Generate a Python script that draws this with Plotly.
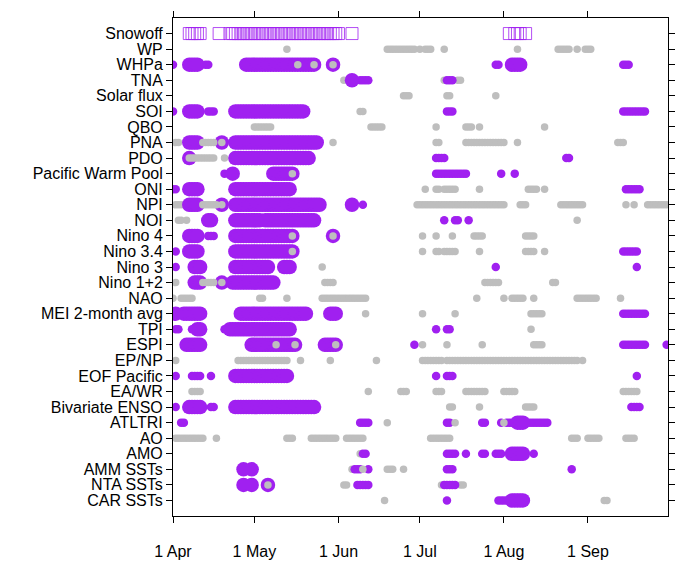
import plotly.graph_objects as go

# Row labels, top to bottom
rows = [
    "Snowoff", "WP", "WHPa", "TNA", "Solar flux", "SOI", "QBO", "PNA", "PDO",
    "Pacific Warm Pool", "ONI", "NPI", "NOI", "Nino 4", "Nino 3.4", "Nino 3",
    "Nino 1+2", "NAO", "MEI 2-month avg", "TPI", "ESPI", "EP/NP", "EOF Pacific",
    "EA/WR", "Bivariate ENSO", "ATLTRI", "AO", "AMO", "AMM SSTs", "NTA SSTs",
    "CAR SSTs",
]

# Day offsets counted from 1 April; (a, b) = every day from a to b inclusive
month_ticks = [0, 30, 61, 91, 122, 153]
month_labels = ["1 Apr", "1 May", "1 Jun", "1 Jul", "1 Aug", "1 Sep"]

snowoff_days = [(6, 10), 17, (21, 61), 66, 124, (126, 128), 130]

grey_days = {
    "WP": [42, (79, 89), 91, (93, 95), 100, 127, (142, 146), 149, (152, 154)],
    "TNA": [63, 100, (105, 106)],
    "Solar flux": [(85, 87), (101, 102), 119],
    "SOI": [69, 70],
    "QBO": [(30, 36), (73, 77), 97, (108, 110), 113, 137],
    "PNA": [1, 2, 59, (97, 98), (108, 122), 127, (164, 166)],
    "PDO": [19],
    "ONI": [93, (97, 98), (100, 104), 113, (131, 134), 137],
    "NPI": [(1, 3), (90, 122), (128, 130), (143, 151), 167, 170, (175, 183)],
    "NOI": [2, 3, 5, 149],
    "Nino 4": [92, 97, 103, (111, 114), (130, 133)],
    "Nino 3.4": [92, (97, 98), (100, 104), 113, (130, 133), 137],
    "Nino 3": [55],
    "Nino 1+2": [1, (56, 59), (115, 120), (140, 141)],
    "NAO": [0, (3, 7), (32, 33), 42, (55, 71), 112, 122, (125, 129), 133,
            (149, 156), 165],
    "MEI 2-month avg": [71, 92, 104, (132, 136)],
    "TPI": [132],
    "ESPI": [92, 101, 114, (133, 136)],
    "EP/NP": [1, (24, 42), 47, 58, 75, (92, 99), (101, 149), 151],
    "EA/WR": [(7, 10), 72, (84, 86), (97, 99), (108, 115), (122, 126), (166, 171)],
    "Bivariate ENSO": [(102, 103), 113, (130, 133)],
    "ATLTRI": [79],
    "AO": [(1, 11), 16, (42, 44), (51, 60), (64, 70), (95, 102), (147, 149),
           (153, 157), (167, 170)],
    "AMO": [69],
    "AMM SSTs": [66, (79, 81), 85],
    "NTA SSTs": [(63, 64), 99, (106, 107)],
    "CAR SSTs": [78, (159, 160)],
}

purple_small_days = {
    "WHPa": [0, (12, 13), (119, 120), (166, 168)],
    "TNA": [(69, 72), (101, 103)],
    "SOI": [0, (13, 15), (101, 103), (166, 174)],
    "PDO": [(97, 100), (145, 146)],
    "Pacific Warm Pool": [19, (97, 108), 121, 126],
    "ONI": [0, 1, (167, 172)],
    "NPI": [70],
    "NOI": [100, (104, 105), 109],
    "Nino 4": [(13, 15)],
    "Nino 3.4": [1, (166, 171)],
    "Nino 3": [1, 119, 171],
    "MEI 2-month avg": [(166, 174)],
    "TPI": [1, 2, 7, 19, 97, (101, 102)],
    "ESPI": [89, (166, 174), 182],
    "EOF Pacific": [1, (7, 10), 14, 97, (101, 103), 171],
    "Bivariate ENSO": [1, (14, 15), (169, 172)],
    "ATLTRI": [(3, 4), (69, 72), (101, 102), (114, 115), 121, (123, 126),
               (130, 138)],
    "AMO": [(70, 71), (101, 104), 108, (114, 115), (119, 121), 133],
    "AMM SSTs": [(67, 69), 72, (101, 103), 147],
    "NTA SSTs": [(68, 72), (100, 104)],
    "CAR SSTs": [101, (120, 123)],
}

purple_large_days = {
    "WHPa": [(6, 9), (27, 52), 59, (125, 128)],
    "TNA": [66],
    "SOI": [(6, 9), (23, 48)],
    "PNA": [(6, 9), 18, (23, 53)],
    "PDO": [6, (23, 50)],
    "Pacific Warm Pool": [22, (37, 44)],
    "ONI": [(6, 9), (23, 43)],
    "NPI": [(6, 9), 18, (23, 54), 66],
    "NOI": [(13, 14), (23, 32), (34, 52)],
    "Nino 4": [(6, 9), (23, 44), 59],
    "Nino 3.4": [(6, 9), (23, 44)],
    "Nino 3": [(8, 10), (23, 35), (41, 43)],
    "Nino 1+2": [(8, 10), 18, (22, 37)],
    "MEI 2-month avg": [1, (4, 10), (25, 49), (58, 60)],
    "TPI": [(9, 10), (21, 43)],
    "ESPI": [(5, 10), (29, 45), (56, 60)],
    "EOF Pacific": [(23, 42)],
    "Bivariate ENSO": [(6, 10), (23, 52)],
    "ATLTRI": [(127, 129)],
    "AMO": [(125, 129)],
    "AMM SSTs": [26, 29],
    "NTA SSTs": [26, 29, 35],
    "CAR SSTs": [(125, 129)],
}

# Grey dots that sit on top of the purple ones
grey_top_days = {
    "WHPa": [46, 52, 59],
    "PNA": [(11, 15), 18],
    "PDO": [(6, 15)],
    "Pacific Warm Pool": [44],
    "NPI": [(11, 16), 18],
    "Nino 4": [44, 59],
    "Nino 3.4": [44],
    "Nino 1+2": [(11, 15), 18],
    "ESPI": [38, 45, 60],
    "ATLTRI": [104, 122],
    "AMM SSTs": [70],
    "NTA SSTs": [35],
}

PURPLE = "#A020F0"
GREY = "#BEBEBE"
FONT = "Liberation Sans, Arial, sans-serif"
FONT_SIZE = 16

n_rows = len(rows)
row_y = {name: n_rows - 1 - i for i, name in enumerate(rows)}


def expand(spec):
    days = []
    for item in spec:
        if isinstance(item, tuple):
            days.extend(range(item[0], item[1] + 1))
        else:
            days.append(item)
    return days


def layer(day_map):
    xs, ys = [], []
    for name, spec in day_map.items():
        for d in expand(spec):
            xs.append(d)
            ys.append(row_y[name])
    return xs, ys


fig = go.Figure()

sx = expand(snowoff_days)
fig.add_trace(go.Scatter(
    x=sx, y=[row_y["Snowoff"]] * len(sx), mode="markers",
    marker=dict(symbol="square-open", size=12, color="rgba(160,32,240,0.8)",
                line=dict(width=1)),
))

for day_map, color, size in [
    (grey_days, GREY, 7.5),
    (purple_small_days, PURPLE, 8.5),
    (purple_large_days, PURPLE, 14.5),
    (grey_top_days, GREY, 7.5),
]:
    xs, ys = layer(day_map)
    fig.add_trace(go.Scatter(
        x=xs, y=ys, mode="markers",
        marker=dict(color=color, size=size, line=dict(width=0)),
    ))

axis_common = dict(
    showgrid=False, zeroline=False, showline=True, linecolor="black",
    linewidth=1, mirror="ticks", ticks="outside", tickcolor="black",
    tickwidth=1, ticklen=6,
    tickfont=dict(family=FONT, size=FONT_SIZE, color="black"),
)

fig.update_xaxes(
    range=[0, 182.5], tickmode="array", tickvals=month_ticks,
    ticktext=month_labels, ticklabelstandoff=15, **axis_common,
)
fig.update_yaxes(
    range=[-1, n_rows], tickmode="array",
    tickvals=[row_y[r] for r in rows], ticktext=rows, **axis_common,
)

fig.update_layout(
    width=679, height=565,
    margin=dict(l=173, r=11, t=18, b=49, autoexpand=False),
    paper_bgcolor="white", plot_bgcolor="white",
    showlegend=False,
    font=dict(family=FONT, size=FONT_SIZE, color="black"),
)

fig.write_html("out.html")
